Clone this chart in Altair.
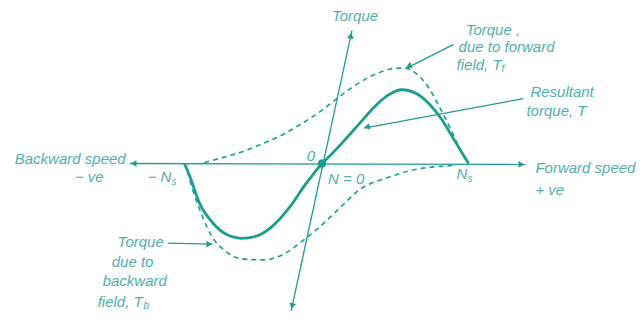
import altair as alt
import pandas as pd

# Speed in units of Ns (0 at N = 0), torque in arbitrary units (diagram values)
res_speed = [-0.939, -0.905, -0.837, -0.748, -0.653, -0.551, -0.449, -0.340, -0.224, -0.122, -0.061, 0.0,
             0.068, 0.150, 0.252, 0.367, 0.456, 0.544, 0.646, 0.735, 0.816, 0.898, 0.959, 1.0]
res_torque = [0.0, -0.122, -0.408, -0.612, -0.735, -0.776, -0.755, -0.653, -0.459, -0.235, -0.112, 0.0,
              0.102, 0.235, 0.408, 0.602, 0.714, 0.765, 0.724, 0.612, 0.459, 0.255, 0.102, 0.0]

fwd_speed = [-0.803, -0.680, -0.544, -0.408, -0.272, -0.156, -0.020, 0.102, 0.231, 0.367, 0.469, 0.558,
             0.646, 0.728, 0.803, 0.878, 0.946, 1.0]
fwd_torque = [0.010, 0.061, 0.122, 0.204, 0.296, 0.398, 0.531, 0.673, 0.816, 0.929, 0.980, 0.990,
              0.929, 0.786, 0.582, 0.357, 0.133, 0.0]

bwd_speed = [-0.939, -0.918, -0.878, -0.816, -0.748, -0.660, -0.544, -0.408, -0.272, -0.136, -0.020,
             0.095, 0.272, 0.435, 0.612, 0.796, 0.912]
bwd_torque = [0.0, -0.092, -0.296, -0.551, -0.765, -0.908, -0.990, -1.0, -0.949, -0.806, -0.663,
              -0.500, -0.255, -0.153, -0.071, -0.031, -0.020]

LINE = "#1d9d8d"
TEXT = "#52aeab"
FONT = "Liberation Sans"

xs = alt.Scale(domain=[-2.143, 2.129], nice=False, zero=False)
ys = alt.Scale(domain=[-1.520, 1.582], nice=False, zero=False)
X = lambda f="x": alt.X(f"{f}:Q", scale=xs, axis=None)
Y = lambda f="y": alt.Y(f"{f}:Q", scale=ys, axis=None)

def curve(sp, tq):
    return pd.DataFrame({"x": sp, "y": tq, "i": range(len(sp))})

res_df = curve(res_speed, res_torque)
fwd_df = curve(fwd_speed, fwd_torque)
bwd_df = curve(bwd_speed, bwd_torque)

# axes and leader lines (segments)
seg_df = pd.DataFrame({
    "x": [-1.313, 0.204, 0.898, 1.374, -1.054],
    "y": [0.0, 1.378, 1.235, 0.673, -0.827],
    "x2": [1.388, -0.211, 0.578, 0.286, -0.748],
    "y2": [-0.01, -1.531, 0.990, 0.367, -0.837],
})
segs = alt.Chart(seg_df).mark_rule(color=LINE, strokeWidth=1.3).encode(
    x=X(), y=Y(), x2="x2:Q", y2="y2:Q")

heads_df = pd.DataFrame({
    "x": [-1.286, 1.361, 0.197, -0.204, 0.592, 0.306, -0.769],
    "y": [0.0, -0.01, 1.327, -1.480, 1.010, 0.378, -0.837],
    "shape": ["triangle-left", "triangle-right", "triangle-up", "triangle-down",
              "triangle-left", "triangle-left", "triangle-right"],
    "angle": [0, 0, 12.5, 12.5, 334, 349, 0],
})
heads = alt.Chart(heads_df).mark_point(filled=True, color=LINE, size=45, opacity=1).encode(
    x=X(), y=Y(),
    shape=alt.Shape("shape:N", scale=None),
    angle=alt.Angle("angle:Q", scale=None))

res_line = alt.Chart(res_df).mark_line(color=LINE, strokeWidth=2.8, interpolate="monotone").encode(
    x=X(), y=Y(), order="i:Q")
fwd_line = alt.Chart(fwd_df).mark_line(color=LINE, strokeWidth=1.6, strokeDash=[5, 4],
                                       interpolate="monotone").encode(x=X(), y=Y(), order="i:Q")
bwd_line = alt.Chart(bwd_df).mark_line(color=LINE, strokeWidth=1.6, strokeDash=[5, 4],
                                       interpolate="monotone").encode(x=X(), y=Y(), order="i:Q")

dot = alt.Chart(pd.DataFrame({"x": [0.0], "y": [0.0]})).mark_point(
    filled=True, color=LINE, size=70, opacity=1).encode(x=X(), y=Y())

left_txt = pd.DataFrame({
    "x": [-1.687, -1.190, 1.456, 1.456, 0.918, 0.041, 0.068, 0.980, 0.932, 0.918,
          1.422, 1.395, -1.395, -1.435, -1.497, -1.531],
    "y": [-0.143, -0.143, -0.051, -0.276, -0.112, -0.163, 1.531, 1.388, 1.204, 1.020,
          0.745, 0.541, -0.816, -1.020, -1.224, -1.439],
    "t": ["\u2212 ve", "\u2212 N", "Forward speed", "+ ve", "N", "N = 0", "Torque", "Torque ,",
          "due to forward", "field, T", "Resultant", "torque, T", "Torque", "due to",
          "backward", "field, T"],
})
right_txt = pd.DataFrame({"x": [-1.340], "y": [0.051], "t": ["Backward speed"]})
center_txt = pd.DataFrame({"x": [-0.075], "y": [0.082], "t": ["0"]})
sub_txt = pd.DataFrame({
    "x": [-1.027, 0.993, 1.224, -1.218],
    "y": [-0.194, -0.163, 0.980, -1.480],
    "t": ["s", "s", "f", "b"],
})

def texts(df, align, size=15):
    return alt.Chart(df).mark_text(align=align, baseline="middle", font=FONT, fontStyle="italic",
                                   fontSize=size, color=TEXT).encode(x=X(), y=Y(), text="t:N")

chart = alt.layer(
    segs, fwd_line, bwd_line, res_line, heads, dot,
    texts(left_txt, "left"), texts(right_txt, "right"), texts(center_txt, "center"),
    texts(sub_txt, "left", 10),
).properties(
    width=628, height=304, padding=0,
    autosize=alt.AutoSizeParams(type="fit", contains="padding"),
    background="white",
).configure_view(stroke=None)

chart.save("out.html", embed_options={"renderer": "svg", "actions": False})
